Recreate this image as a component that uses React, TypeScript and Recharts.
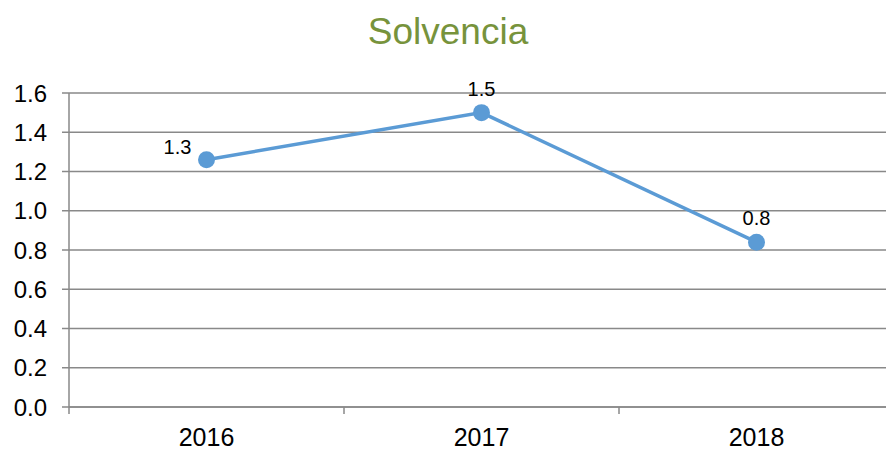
import React from "react";
import { LineChart, Line, XAxis, YAxis, CartesianGrid, LabelList } from "recharts";

const years = ["2016", "2017", "2018"];
const solvencia = [1.26, 1.5, 0.84];
const yTicks = [0, 0.2, 0.4, 0.6, 0.8, 1.0, 1.2, 1.4, 1.6];

const data = years.map((year, i) => ({ year, solvencia: solvencia[i] }));

const W = 900;
const H = 450;
const M = { top: 93, right: 6, bottom: 0, left: 0 };
const Y_W = 69;
const X_H = 43;
const BAND = (W - M.left - M.right - Y_W) / years.length;
const GRAY = "#898989";
const BLUE = "#5B9BD5";
const FONT = "'Liberation Sans', Arial, sans-serif";

// category ticks sit on band edges, labels in the middle
function XTick(props: any) {
  const { x, y, payload, index } = props;
  const half = BAND / 2;
  return (
    <g>
      <line x1={x - half} x2={x - half} y1={y} y2={y + 7} stroke={GRAY} strokeWidth={1.5} />
      {index === years.length - 1 && (
        <line x1={x + half} x2={x + half} y1={y} y2={y + 7} stroke={GRAY} strokeWidth={1.5} />
      )}
      <text x={x} y={y + 39} textAnchor="middle" fontSize={25} fill="#000">
        {payload.value}
      </text>
    </g>
  );
}

function PointLabel(props: any) {
  const { x, y, value, index } = props;
  const left = index === 0;
  return (
    <text
      x={left ? x - 29 : x}
      y={left ? y - 6 : y - 17}
      textAnchor="middle"
      fontSize={20}
      fill="#000"
    >
      {Number(value).toFixed(1)}
    </text>
  );
}

export default function App() {
  return (
    <div
      style={{
        position: "fixed",
        top: 0,
        left: 0,
        width: 886,
        height: 450,
        overflow: "hidden",
        fontFamily: FONT,
        background: "#fff",
      }}
    >
      <div
        style={{
          position: "absolute",
          top: 13,
          left: 0,
          width: 896,
          textAlign: "center",
          fontSize: 37,
          lineHeight: "37px",
          color: "#77933C",
          zIndex: 1,
        }}
      >
        Solvencia
      </div>
      <LineChart
        width={W}
        height={H}
        data={data}
        margin={M}
        style={{ fontFamily: FONT, overflow: "visible" }}
      >
        <CartesianGrid vertical={false} stroke={GRAY} strokeWidth={1.5} />
        <XAxis
          dataKey="year"
          height={X_H}
          interval={0}
          padding={{ left: BAND / 2, right: BAND / 2 }}
          tickLine={false}
          tickSize={0}
          tickMargin={0}
          axisLine={{ stroke: GRAY, strokeWidth: 1.5 }}
          tick={<XTick />}
        />
        <YAxis
          width={Y_W}
          domain={[0, 1.6]}
          ticks={yTicks}
          interval={0}
          tickFormatter={(v: number) => v.toFixed(1)}
          tickSize={7}
          tickMargin={15}
          tick={{ fontSize: 24, fill: "#000" }}
          axisLine={{ stroke: GRAY, strokeWidth: 1.5 }}
          tickLine={{ stroke: GRAY, strokeWidth: 1.5 }}
        />
        <Line
          type="linear"
          dataKey="solvencia"
          stroke={BLUE}
          strokeWidth={3.5}
          dot={{ r: 8.5, fill: BLUE, stroke: "none" }}
          activeDot={false}
          isAnimationActive={false}
        >
          <LabelList dataKey="solvencia" content={<PointLabel />} />
        </Line>
      </LineChart>
    </div>
  );
}
